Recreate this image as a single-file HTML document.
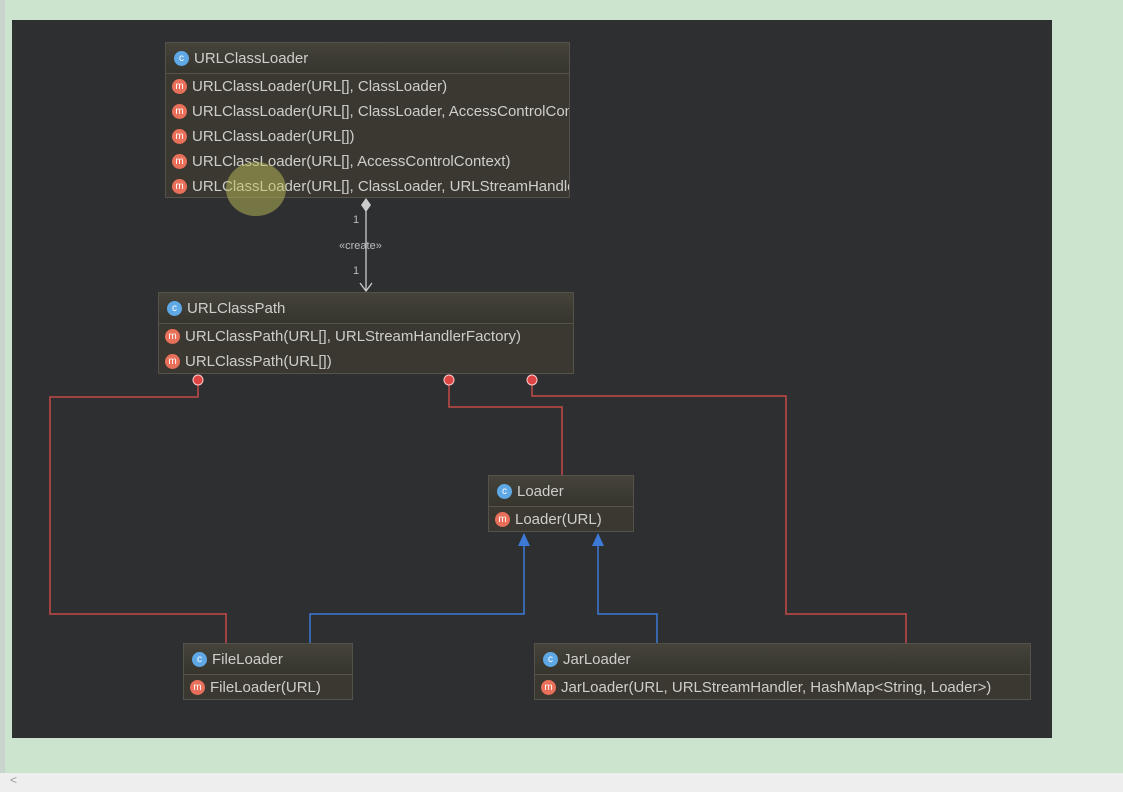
<!DOCTYPE html>
<html><head><style>
body{margin:0;width:1123px;height:792px;background:#cce4cd;position:relative;overflow:hidden;font-family:"Liberation Sans",sans-serif}
#panel{position:absolute;left:12px;top:20px;width:1040px;height:718px;background:#2e2f31}
#lstrip{position:absolute;left:0;top:0;width:5px;height:773px;background:#c9d4cc}
#bottom{position:absolute;left:0;top:773px;width:1123px;height:19px;background:#eeeeee;color:#999;font-size:12px}
.n{position:absolute;background:#3a3830;border:1px solid #54524a;box-sizing:border-box;color:#cfcfca;font-size:15px}
.h{height:30px;border-bottom:1px solid #55534a;background:linear-gradient(#45433a,#36352e);display:flex;align-items:center;padding-left:8px;white-space:nowrap;overflow:hidden}
.r{height:25px;display:flex;align-items:center;padding-left:6px;white-space:nowrap;overflow:hidden}
.ic{width:15px;height:15px;border-radius:50%;display:inline-block;margin-right:5px;flex:none;font-size:10px;line-height:15px;text-align:center;color:#fff}
.c{background:#5fa8e6}.m{background:#e8705a}
</style></head><body>
<div id="lstrip"></div>
<div id="panel"></div>
<svg style="position:absolute;left:0;top:0" width="1123" height="792">
<g fill="none" stroke="#c44848" stroke-width="1.5">
<polyline points="198,380 198,397 50,397 50,614 226,614 226,643"/>
<polyline points="449,380 449,407 562,407 562,475"/>
<polyline points="532,380 532,396 786,396 786,614 906,614 906,643"/>
</g>
<g fill="none" stroke="#3d7ad8" stroke-width="1.5">
<polyline points="524,545 524,614 310,614 310,643"/>
<polyline points="598,545 598,614 657,614 657,643"/>
</g>
<polygon points="524,533 518,546 530,546" fill="#3d7ad8"/>
<polygon points="598,533 592,546 604,546" fill="#3d7ad8"/>
<g fill="#d44" stroke="#fcc" stroke-width="1"><circle cx="198" cy="380" r="5"/><circle cx="449" cy="380" r="5"/><circle cx="532" cy="380" r="5"/></g>
<line x1="366" y1="205" x2="366" y2="291" stroke="#ccc" stroke-width="1.3"/>
<polygon points="366,198 371,205 366,212 361,205" fill="#ccc"/>
<polyline points="360,283 366,291 372,283" fill="none" stroke="#ccc" stroke-width="1.3"/>
<g fill="#bbb" font-size="11" font-family="Liberation Sans"><text x="353" y="223">1</text><text x="339" y="249">«create»</text><text x="353" y="274">1</text></g>
</svg>
<div class="n" style="left:165px;top:42px;width:405px;height:156px">
<div class="h"><span class="ic c">c</span>URLClassLoader</div>
<div class="r"><span class="ic m">m</span>URLClassLoader(URL[], ClassLoader)</div>
<div class="r"><span class="ic m">m</span>URLClassLoader(URL[], ClassLoader, AccessControlContext)</div>
<div class="r"><span class="ic m">m</span>URLClassLoader(URL[])</div>
<div class="r"><span class="ic m">m</span>URLClassLoader(URL[], AccessControlContext)</div>
<div class="r"><span class="ic m">m</span>URLClassLoader(URL[], ClassLoader, URLStreamHandlerFactory)</div>
</div>
<div style="position:absolute;left:226px;top:162px;width:60px;height:54px;border-radius:50%;background:rgba(190,190,90,0.5)"></div>
<div class="n" style="left:158px;top:292px;width:416px;height:82px">
<div class="h"><span class="ic c">c</span>URLClassPath</div>
<div class="r"><span class="ic m">m</span>URLClassPath(URL[], URLStreamHandlerFactory)</div>
<div class="r"><span class="ic m">m</span>URLClassPath(URL[])</div>
</div>
<div class="n" style="left:488px;top:475px;width:146px;height:57px">
<div class="h"><span class="ic c">c</span>Loader</div>
<div class="r"><span class="ic m">m</span>Loader(URL)</div>
</div>
<div class="n" style="left:183px;top:643px;width:170px;height:57px">
<div class="h"><span class="ic c">c</span>FileLoader</div>
<div class="r"><span class="ic m">m</span>FileLoader(URL)</div>
</div>
<div class="n" style="left:534px;top:643px;width:497px;height:57px">
<div class="h"><span class="ic c">c</span>JarLoader</div>
<div class="r"><span class="ic m">m</span>JarLoader(URL, URLStreamHandler, HashMap&lt;String, Loader&gt;)</div>
</div>
<div id="bottom"><span style="margin-left:10px">&lt;</span></div>
</body></html>
